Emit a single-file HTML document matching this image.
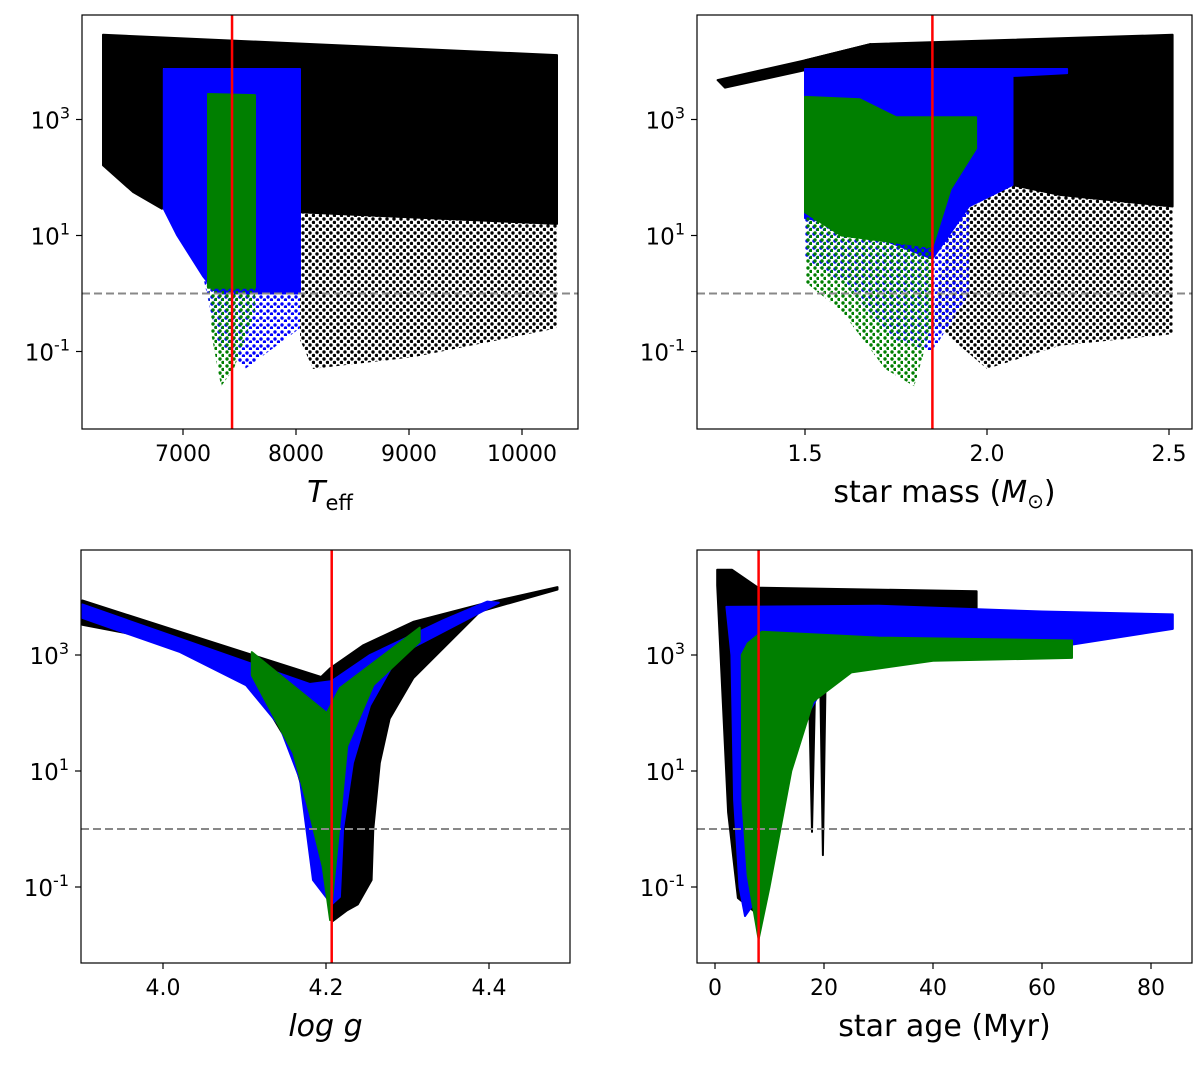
<!DOCTYPE html>
<html><head><meta charset="utf-8"><style>
body{margin:0;background:#fff}
svg text{font-family:"DejaVu Sans","Liberation Sans",sans-serif;fill:#000}
</style></head><body>
<svg id="s" width="1200" height="1066" viewBox="0 0 1200 1066" xmlns="http://www.w3.org/2000/svg">
<defs>
<pattern id="pk" width="7" height="7" patternUnits="userSpaceOnUse"><circle cx="2" cy="2" r="1.7" fill="#000"/><circle cx="5.5" cy="5.5" r="1.7" fill="#000"/></pattern>
<pattern id="pb" width="7" height="7" patternUnits="userSpaceOnUse"><circle cx="2" cy="3" r="1.7" fill="#0000ff"/><circle cx="5.5" cy="6" r="1.7" fill="#0000ff"/></pattern>
<pattern id="pg" width="7" height="7" patternUnits="userSpaceOnUse"><circle cx="3" cy="2" r="1.7" fill="#007f00"/><circle cx="6" cy="5.5" r="1.7" fill="#007f00"/></pattern>
</defs>
</svg>
<script>
// y ticks (log10 values)
const yTicks=[3,1,-1];
// panel x ticks
const ticksTeff=[7000,8000,9000,10000];
const ticksMass=[1.5,2.0,2.5];
const ticksLogg=[4.0,4.2,4.4];
const ticksAge=[0,20,40,60,80];
// red reference lines
const redTeff=7434, redMass=1.85, redLogg=4.207, redAge=8;
// envelopes [x, log10 y]
const teffBlackSparse=[[8035,1.4],[10310,1.2],[10310,-0.6],[9035,-1.1],[8150,-1.3],[8035,-0.8]];
const teffBlack=[[6292,4.46],[10310,4.11],[10310,1.2],[8035,1.4],[8035,3.9],[6814,3.9],[6814,1.46],[6558,1.75],[6292,2.21]];
const teffBlueSparse=[[7177,0.3],[8035,0.0],[8035,-0.6],[7550,-1.3],[7300,-0.8]];
const teffBlue=[[6830,3.87],[8035,3.87],[8035,0.0],[7300,0.0],[7177,0.3],[6950,1.0],[6830,1.46]];
const teffGreenSparse=[[7221,0.5],[7637,0.1],[7637,-0.3],[7450,-1.3],[7337,-1.6],[7250,-0.7]];
const teffGreen=[[7221,3.44],[7637,3.42],[7637,0.1],[7221,0.1]];
const massArcs=[[1.26,3.68],[1.5,4.02],[1.68,4.3],[1.68,4.18],[1.5,3.85],[1.28,3.55]];
const massBlackSparse=[[1.9,1.3],[2.07,1.87],[2.51,1.5],[2.51,-0.7],[2.2,-0.9],[2.0,-1.3],[1.85,-0.5]];
const massBlack=[[1.68,4.3],[2.51,4.46],[2.51,1.5],[2.2,1.7],[2.07,1.87],[2.07,3.87],[1.5,3.87],[1.5,4.02]];
const massBlueSparse=[[1.5,1.3],[1.95,1.5],[1.95,0],[1.85,-1.0],[1.75,-0.8],[1.6,0.2],[1.5,0.6]];
const massBlue=[[1.5,3.87],[2.22,3.87],[2.22,3.8],[2.07,3.75],[2.07,1.87],[1.95,1.5],[1.85,0.6],[1.6,1.2],[1.5,1.3]];
const massGreenSparse=[[1.5,1.4],[1.85,0.8],[1.85,-0.5],[1.8,-1.6],[1.72,-1.3],[1.6,-0.3],[1.5,0.2]];
const massGreen=[[1.5,3.39],[1.65,3.35],[1.75,3.04],[1.97,3.04],[1.97,2.5],[1.9,1.8],[1.85,0.8],[1.6,1.0],[1.5,1.4]];
const loggBlack=[[3.901,3.94],[4.194,2.62],[4.205,2.77],[4.246,3.17],[4.307,3.57],[4.389,3.87],[4.484,4.17],[4.484,4.13],[4.389,3.75],[4.307,2.60],[4.278,1.90],[4.266,1.14],[4.258,0],[4.256,-0.88],[4.239,-1.3],[4.226,-1.4],[4.207,-1.6],[4.194,-0.3],[4.176,0.44],[4.156,1.43],[4.107,2.57],[3.984,3.30],[3.901,3.52]];
const loggBlue=[[3.901,3.87],[4.180,2.5],[4.207,2.55],[4.254,3.0],[4.344,3.6],[4.398,3.92],[4.412,3.9],[4.289,3.0],[4.254,2.13],[4.233,1.14],[4.221,0],[4.217,-1.17],[4.207,-1.3],[4.184,-0.88],[4.168,0.86],[4.143,1.78],[4.102,2.48],[4.021,3.05],[3.901,3.64]];
const loggGreen=[[4.109,3.05],[4.201,2.0],[4.217,2.43],[4.315,3.47],[4.315,3.23],[4.258,2.48],[4.226,1.43],[4.214,-0.3],[4.205,-1.57],[4.196,-0.65],[4.180,0.27],[4.160,1.31],[4.109,2.65]];
const ageBlack=[[0.4,4.47],[3.1,4.47],[7.9,4.16],[48,4.1],[48,3.8],[30,3.3],[20,2.6],[14.7,2.02],[12.3,0.3],[8.6,-0.84],[7.3,-1.43],[4.2,-1.19],[2.4,0.29],[0.4,4.2]];
const ageBlue=[[2.1,3.83],[30,3.85],[60,3.75],[84,3.7],[84,3.45],[60,3.1],[40,3.0],[25,2.8],[19,2.3],[14,1.5],[11,0.3],[8.5,-1.1],[5.5,-1.5],[4.5,-1.0],[3.5,0.5],[3.0,3.0]];
const ageGreen=[[4.9,3.0],[6,3.2],[8.6,3.4],[30,3.3],[65.5,3.25],[65.5,2.95],[40,2.9],[25,2.7],[18,2.2],[14,1.0],[12,0.0],[10,-1.0],[8,-1.9],[6,-0.8],[5,0.5]];
const ageSpike1=[[17.2,2.6],[17.8,-0.05],[18.4,2.6]];
const ageSpike2=[[19.3,2.6],[19.8,-0.45],[20.3,2.6]];

const NS="http://www.w3.org/2000/svg", svg=document.getElementById('s');
function mk(t,a,p){const e=document.createElementNS(NS,t);for(const k in a)e.setAttribute(k,a[k]);(p||svg).appendChild(e);return e;}
function panel(o){
  const g=mk('g',{});
  
  
  const X=v=>o.px0+(v-o.v0)*o.k, Y=l=>o.y3+(3-l)*58;
  const cid='c'+o.name; const cp=mk('clipPath',{id:cid},g); mk('rect',{x:o.L,y:o.T,width:o.R-o.L,height:o.B-o.T},cp);
  const d=mk('g',{'clip-path':`url(#${cid})`},g);
  o.polys.forEach(p=>{const pts=p[0].map(q=>X(q[0]).toFixed(1)+','+Y(q[1]).toFixed(1)).join(' ');
    const e=mk('polygon',{points:pts,fill:p[1],stroke:p[2]||'none','stroke-width':2,'stroke-linejoin':'round'},d);
     });
  const dl=mk('line',{x1:o.L,x2:o.R,y1:Y(0),y2:Y(0),stroke:'#888','stroke-width':2,'stroke-dasharray':'8,4'},d);
   
  const rl=mk('line',{x1:X(o.red),x2:X(o.red),y1:o.T,y2:o.B,stroke:'#f00','stroke-width':2.5},d);
   
  const fr=mk('rect',{x:o.L,y:o.T,width:o.R-o.L,height:o.B-o.T,fill:'none',stroke:'#000','stroke-width':1.2},g);
   
  yTicks.forEach(l=>{const y=Y(l);mk('line',{x1:o.L-6,x2:o.L,y1:y,y2:y,stroke:'#000','stroke-width':1.2},g);
    const t=mk('text',{x:o.L-12,y:y+9,'text-anchor':'end','font-size':23},g);
     
    t.innerHTML='10<tspan dy="-10" font-size="16">'+l+'</tspan>';});
  o.ticks.forEach(v=>{const x=X(v);mk('line',{x1:x,x2:x,y1:o.B,y2:o.B+6,stroke:'#000','stroke-width':1.2},g);
    const t=mk('text',{x:x,y:o.B+32,'text-anchor':'middle','font-size':22},g);
     
    t.textContent=o.fmt?o.fmt(v):v;});
  const lab=mk('text',{x:(o.L+o.R)/2,y:o.B+73,'text-anchor':'middle','font-size':30},g);
   
  lab.innerHTML=o.label;
}
panel({name:'teff-panel',L:82,R:578,T:15,B:429,px0:183,v0:7000,k:0.113,y3:119.5,red:redTeff,ticks:ticksTeff,
 label:'<tspan font-style="italic">T</tspan><tspan dy="8" font-size="21">eff</tspan>',
 polys:[[teffBlackSparse,'url(#pk)',null,'black-sparse'],[teffBlack,'#000','#000','black-points'],[teffBlueSparse,'url(#pb)',null,'blue-sparse'],[teffBlue,'#0000ff','#0000ff','blue-points'],[teffGreenSparse,'url(#pg)',null,'green-sparse'],[teffGreen,'#007f00','#007f00','green-points']]});
panel({name:'mass-panel',L:697,R:1192,T:15,B:429,px0:805,v0:1.5,k:364,y3:119.5,red:redMass,ticks:ticksMass,fmt:v=>v.toFixed(1),
 label:'star mass (<tspan font-style="italic">M</tspan><tspan dy="6" font-size="20">⊙</tspan><tspan dy="-6">)</tspan>',
 polys:[[massArcs,'#000','#000','black-arcs'],[massBlackSparse,'url(#pk)',null,'black-sparse'],[massBlack,'#000','#000','black-points'],[massBlueSparse,'url(#pb)',null,'blue-sparse'],[massBlue,'#0000ff','#0000ff','blue-points'],[massGreenSparse,'url(#pg)',null,'green-sparse'],[massGreen,'#007f00','#007f00','green-points']]});
panel({name:'logg-panel',L:81,R:570,T:550,B:963,px0:163,v0:4.0,k:815,y3:655,red:redLogg,ticks:ticksLogg,fmt:v=>v.toFixed(1),
 label:'<tspan font-style="italic">log g</tspan>',
 polys:[[loggBlack,'#000','#000','black-points'],[loggBlue,'#0000ff','#0000ff','blue-points'],[loggGreen,'#007f00','#007f00','green-points']]});
panel({name:'age-panel',L:697,R:1192,T:550,B:963,px0:715,v0:0,k:5.45,y3:655,red:redAge,ticks:ticksAge,
 label:'star age (Myr)',
 polys:[[ageBlack,'#000','#000','black-points'],[ageSpike1,'#000','#000','black-spike'],[ageSpike2,'#000','#000','black-spike'],[ageBlue,'#0000ff','#0000ff','blue-points'],[ageGreen,'#007f00','#007f00','green-points']]});
</script>
</body></html>
